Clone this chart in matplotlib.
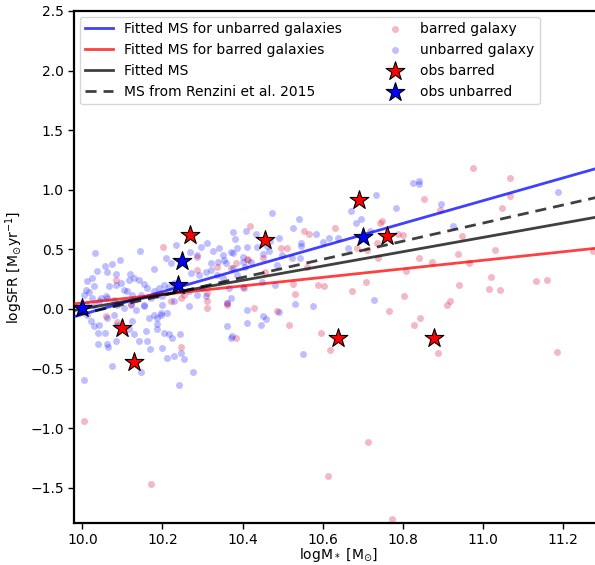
import numpy as np
import matplotlib
matplotlib.use("Agg")
import matplotlib.pyplot as plt

# ---------------- data ----------------
barred_x = [10.976, 11.067, 11.068, 10.852, 11.047, 10.892, 10.949, 10.789, 10.801, 11.03,
            10.938, 10.841, 10.872, 10.966, 10.807, 11.276, 11.02, 10.94, 11.133, 11.16,
            11.015, 11.042, 10.804, 10.918, 10.911, 10.765, 10.843, 10.827, 10.889, 11.185,
            10.418, 10.554, 10.565, 10.632, 10.748, 10.743, 10.735, 10.495, 10.512, 10.71,
            10.685, 10.737, 10.452, 10.414, 10.384, 10.56, 10.456, 10.525, 10.589, 10.603,
            10.708, 10.404, 10.674, 10.531, 10.429, 10.485, 10.516, 10.383, 10.597, 10.618,
            10.202, 10.287, 10.083, 10.221, 10.312, 10.312, 10.312, 10.287, 10.337, 10.371,
            10.246, 10.254, 10.058, 10.087, 10.246, 10.362, 10.121, 10.36, 10.412,
            10.004, 10.712, 10.171, 10.614, 10.772]
barred_y = [1.183, 1.097, 0.944, 0.919, 0.847, 0.828, 0.608, 0.625, 0.62, 0.494,
            0.461, 0.428, 0.397, 0.383, 0.322, 0.483, 0.267, 0.203, 0.236, 0.244,
            0.167, 0.161, 0.111, 0.07, 0.036, -0.02, -0.075, -0.131, -0.367, -0.361,
            0.697, 0.653, 0.628, 0.675, 0.739, 0.72, 0.556, 0.514, 0.508, 0.494,
            0.508, 0.425, 0.425, 0.411, 0.383, 0.356, 0.314, 0.211, 0.2, 0.194,
            0.222, 0.175, 0.147, 0.125, 0.008, -0.02, -0.133, -0.242, -0.206, -0.347,
            0.522, 0.439, 0.244, 0.064, 0.133, 0.064, 0.008, 0.328, 0.356, 0.342,
            0.092, 0.119, -0.061, -0.108, -0.317, 0.036, 0.042, 0.05, 0.419,
            -0.942, -1.12, -1.472, -1.405, -1.76]

unbarred_x = [10.825, 10.841, 10.841, 11.188, 10.783, 10.896, 10.925,
              10.473, 10.541, 10.527, 10.377, 10.409, 10.434, 10.381, 10.584, 10.615, 10.602,
              10.546, 10.546, 10.49, 10.469, 10.46, 10.437, 10.41, 10.386, 10.376, 10.452,
              10.467, 10.498, 10.524, 10.544, 10.733, 10.67, 10.683, 10.695, 10.639, 10.664,
              10.718, 10.402, 10.4, 10.42, 10.386, 10.406, 10.485, 10.448, 10.481, 10.4,
              10.727, 10.531, 10.575, 10.412, 10.492, 10.45, 10.459, 10.41, 10.446, 10.373,
              10.552,
              10.031, 10.143, 10.093, 10.057, 10.075, 10.036, 10.062, 10.083, 10.119, 10.179,
              10.208, 10.221, 10.233, 10.269, 10.286, 10.296, 10.312, 10.325, 10.341, 10.35,
              10.371, 10.322, 10.339, 10.354, 10.012, 10.025, 10.029, 10.008, 10.004, 10.017,
              10.025, 10.046, 10.058, 10.067, 10.083, 10.096, 10.104, 10.117, 10.129, 10.142,
              10.154, 10.112, 10.125, 10.146, 10.162, 10.179, 10.192, 10.204, 10.217, 10.229,
              10.187, 10.2, 10.171, 10.012, 10.029, 10.042, 10.062, 10.079, 10.087, 10.104,
              10.121, 10.133, 10.154, 10.012, 10.021, 10.029, 10.042, 10.038, 10.062, 10.079,
              10.087, 10.039, 10.062, 10.083, 10.056, 10.065, 10.117, 10.129, 10.142, 10.125,
              10.154, 10.167, 10.179, 10.197, 10.212, 10.158, 10.162, 10.186, 10.187, 10.169,
              10.204, 10.217, 10.225, 10.2, 10.212, 10.229, 10.244, 10.254, 10.246, 10.267,
              10.229, 10.2, 10.197, 10.187, 10.075, 10.146, 10.276, 10.362, 10.371, 10.362,
              10.371, 10.366, 10.35, 10.337, 10.358, 10.377, 10.3, 10.287, 10.308, 10.267,
              10.25, 10.291, 10.308, 10.321, 10.271,
              10.004, 10.242]
unbarred_y = [1.053, 1.072, 1.044, 0.983, 0.847, 0.878, 0.70,
              0.806, 0.758, 0.683, 0.642, 0.653, 0.631, 0.586, 0.631, 0.597, 0.564,
              0.556, 0.531, 0.597, 0.569, 0.528, 0.517, 0.517, 0.508, 0.467, 0.461,
              0.489, 0.453, 0.425, 0.425, 0.953, 0.819, 0.725, 0.753, 0.592, 0.508,
              0.653, 0.439, 0.397, 0.392, 0.286, 0.356, 0.369, 0.222, 0.203, 0.181,
              0.078, 0.042, 0.022, -0.006, -0.028, -0.061, -0.081, -0.122, -0.131, -0.228,
              -0.381,
              0.472, 0.486, 0.408, 0.361, 0.375, 0.319, 0.314, 0.292, 0.292, 0.336,
              0.425, 0.383, 0.536, 0.481, 0.453, 0.517, 0.556, 0.486, 0.508, 0.453,
              0.475, 0.389, 0.392, 0.411, 0.231, 0.258, 0.189, 0.161, 0.119, 0.142,
              0.092, 0.092, 0.106, 0.189, 0.197, 0.217, 0.161, 0.244, 0.258, 0.244,
              0.208, 0.147, 0.119, 0.119, 0.175, 0.147, 0.175, 0.197, 0.181, 0.217,
              0.119, 0.106, 0.092, 0.036, 0.036, 0.064, 0.092, 0.078, 0.036, 0.008,
              0.036, -0.006, 0.022, -0.047, -0.103, -0.144, -0.131, -0.2, -0.075, -0.047,
              -0.131, -0.297, -0.297, -0.269, -0.2, -0.317, -0.172, -0.214, -0.269, -0.103,
              0.036, -0.075, -0.047, -0.033, -0.033, -0.186, -0.269, -0.125, -0.172, -0.339,
              -0.2, -0.214, -0.242, -0.325, -0.408, -0.394, -0.214, -0.422, -0.367, 0.022,
              0.064, 0.036, -0.047, -0.075, -0.478, -0.533, -0.525, -0.144, -0.242, 0.05,
              0.092, 0.175, 0.258, 0.286, 0.383, 0.342, 0.175, 0.119, 0.106, 0.147,
              0.147, 0.286, 0.314, 0.328, 0.3,
              -0.597, -0.642]

obs_barred_x = [10.10, 10.128, 10.268, 10.457, 10.639, 10.69, 10.76, 10.879]
obs_barred_y = [-0.164, -0.444, 0.62, 0.575, -0.242, 0.91, 0.614, -0.247]
obs_unbarred_x = [9.998, 10.239, 10.249, 10.70]
obs_unbarred_y = [0.008, 0.197, 0.405, 0.605]

# fitted main sequences: (slope, value at logM = 10)
fit_unbarred = (0.954, -0.046)
fit_barred = (0.358, 0.050)
fit_all = (0.600, 0.000)
# Renzini & Peng 2015: logSFR = 0.76 logM - 7.64
renzini = (0.76, -7.64)

x_ticks = [10.0, 10.2, 10.4, 10.6, 10.8, 11.0, 11.2]
y_ticks = [-1.5, -1.0, -0.5, 0.0, 0.5, 1.0, 1.5, 2.0, 2.5]

# ---------------- plot ----------------
plt.rcParams['font.family'] = ['DejaVu Sans']
fig = plt.figure(figsize=(5.95, 5.65), dpi=100)
ax = fig.add_axes([0.1249, 0.0735, 0.8886, 0.9071])

ax.scatter(barred_x, barred_y, s=25, color='crimson', alpha=0.3, lw=0,
           label='barred galaxy', zorder=2)
ax.scatter(unbarred_x, unbarred_y, s=25, color='blue', alpha=0.25, lw=0,
           label='unbarred galaxy', zorder=2)

xx = np.linspace(9.9, 11.5, 100)
ax.plot(xx, fit_unbarred[0] * (xx - 10) + fit_unbarred[1], color='blue', alpha=0.75,
        lw=2, label='Fitted MS for unbarred galaxies', zorder=3)
ax.plot(xx, fit_barred[0] * (xx - 10) + fit_barred[1], color='red', alpha=0.75,
        lw=2, label='Fitted MS for barred galaxies', zorder=3)
ax.plot(xx, fit_all[0] * (xx - 10) + fit_all[1], color='k', alpha=0.75,
        lw=2, label='Fitted MS', zorder=3)
ax.plot(xx, renzini[0] * xx + renzini[1], color='k', alpha=0.75, lw=2, ls=(0, (4, 2.5)),
        label='MS from Renzini et al. 2015', zorder=3)

ax.scatter(obs_barred_x, obs_barred_y, marker='*', s=200, color='red', edgecolor='k',
           lw=0.8, label='obs barred', zorder=4)
ax.scatter(obs_unbarred_x, obs_unbarred_y, marker='*', s=200, color='blue', edgecolor='k',
           lw=0.8, label='obs unbarred', zorder=4)

ax.set_xlim(9.98, 11.3)
ax.set_ylim(-1.8, 2.5)
ax.set_xticks(x_ticks)
ax.set_yticks(y_ticks)
ax.tick_params(labelsize=10, width=1, length=4)
ax.tick_params(axis='x', pad=2.5)
for sp in ax.spines.values():
    sp.set_linewidth(1.6)

ax.set_xlabel(r'logM$_*$ [M$_{\odot}$]', fontsize=10, labelpad=0)
ax.set_ylabel(r'logSFR [M$_{\odot}$yr$^{-1}$]', fontsize=10)

h, l = ax.get_legend_handles_labels()
order = [2, 3, 4, 5, 0, 1, 6, 7]
ax.legend([h[i] for i in order], [l[i] for i in order], ncol=2, loc='upper left',
          fontsize=10, bbox_to_anchor=(0.0, 1.0), borderaxespad=0.4,
          handlelength=2.0, columnspacing=2.8)

fig.savefig('out.png', dpi=100)
